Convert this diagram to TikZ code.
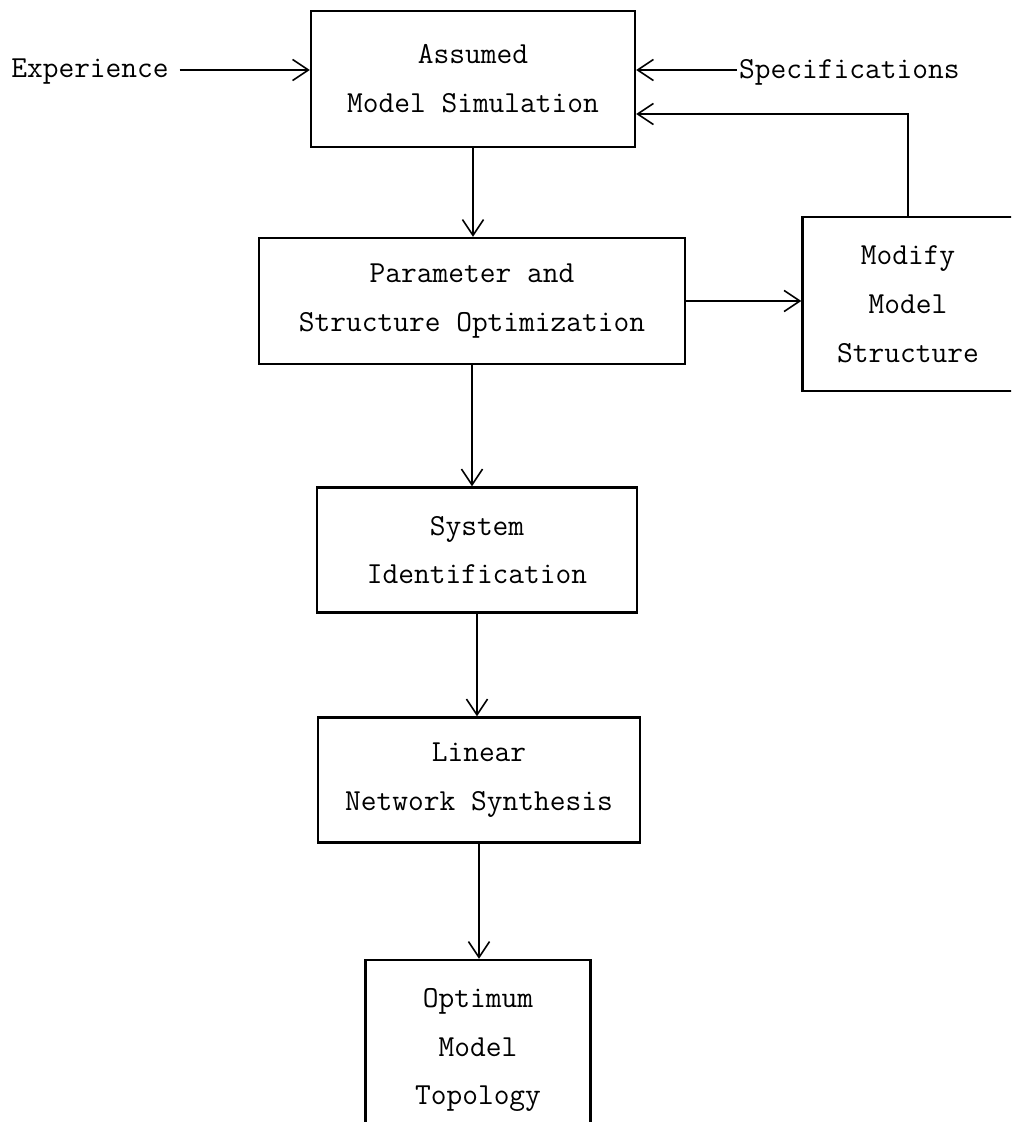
\documentclass[tikz,border=0pt]{standalone}
\usepackage{fontspec}
\usetikzlibrary{arrows.meta,positioning,calc}

\begin{document}
\begin{tikzpicture}[
    x=0.02cm, y=-0.02cm,
    >={Straight Barb[length=9pt,width=12pt]},
    stage/.style={rectangle, draw, line width=1.4pt, inner sep=0pt, align=center,
                  font=\fontsize{17.4pt}{27.8pt}\selectfont\ttfamily},
    sidetext/.style={inner sep=1pt, font=\fontsize{17.4pt}{27.8pt}\selectfont\ttfamily},
    flow/.style={->, line width=0.9pt}
]
    \useasboundingbox (0,0) rectangle (1011,1122);
    \clip (0,0) rectangle (1011,1122);

    % Main stages
    \node[stage, minimum width=6.48cm, minimum height=2.72cm] (sim) at (473, 79)
        {Assumed\\Model Simulation};
    \node[stage, minimum width=8.52cm, minimum height=2.52cm] (param) at (472, 301)
        {Parameter and\\Structure Optimization};
    \node[stage, minimum width=6.4cm, minimum height=2.5cm] (ident) at (477, 550)
        {System\\Identification};
    \node[stage, minimum width=6.44cm, minimum height=2.5cm] (synth) at (479, 780)
        {Linear\\Network Synthesis};
    \node[stage, minimum width=4.5cm, minimum height=3.6cm] (topo) at (478, 1050)
        {Optimum\\Model\\Topology};

    % Feedback stage (runs off the page edge)
    \node[stage, minimum width=4.22cm, minimum height=3.48cm] (modify) at (908, 304)
        {Modify\\Model\\Structure};

    % Inputs
    \node[sidetext] (exp) at (90, 72) {Experience};
    \node[sidetext, anchor=west] (spec) at (737, 72) {Specifications};

    % Arrows
    \draw[flow] ([xshift=5pt]exp.east |- 0,70) -- (sim.west |- 0,70);
    \draw[flow] (spec.west |- 0,70) -- (sim.east |- 0,70);
    \draw[flow] (modify.north) |- (sim.east |- 0,114);
    \draw[flow] (param.east) -- (modify.west |- param.east);
    \draw[flow] (sim.south) -- (sim.south |- param.north);
    \draw[flow] (param.south) -- (param.south |- ident.north);
    \draw[flow] (ident.south) -- (ident.south |- synth.north);
    \draw[flow] (synth.south) -- (synth.south |- topo.north);
\end{tikzpicture}
\end{document}
